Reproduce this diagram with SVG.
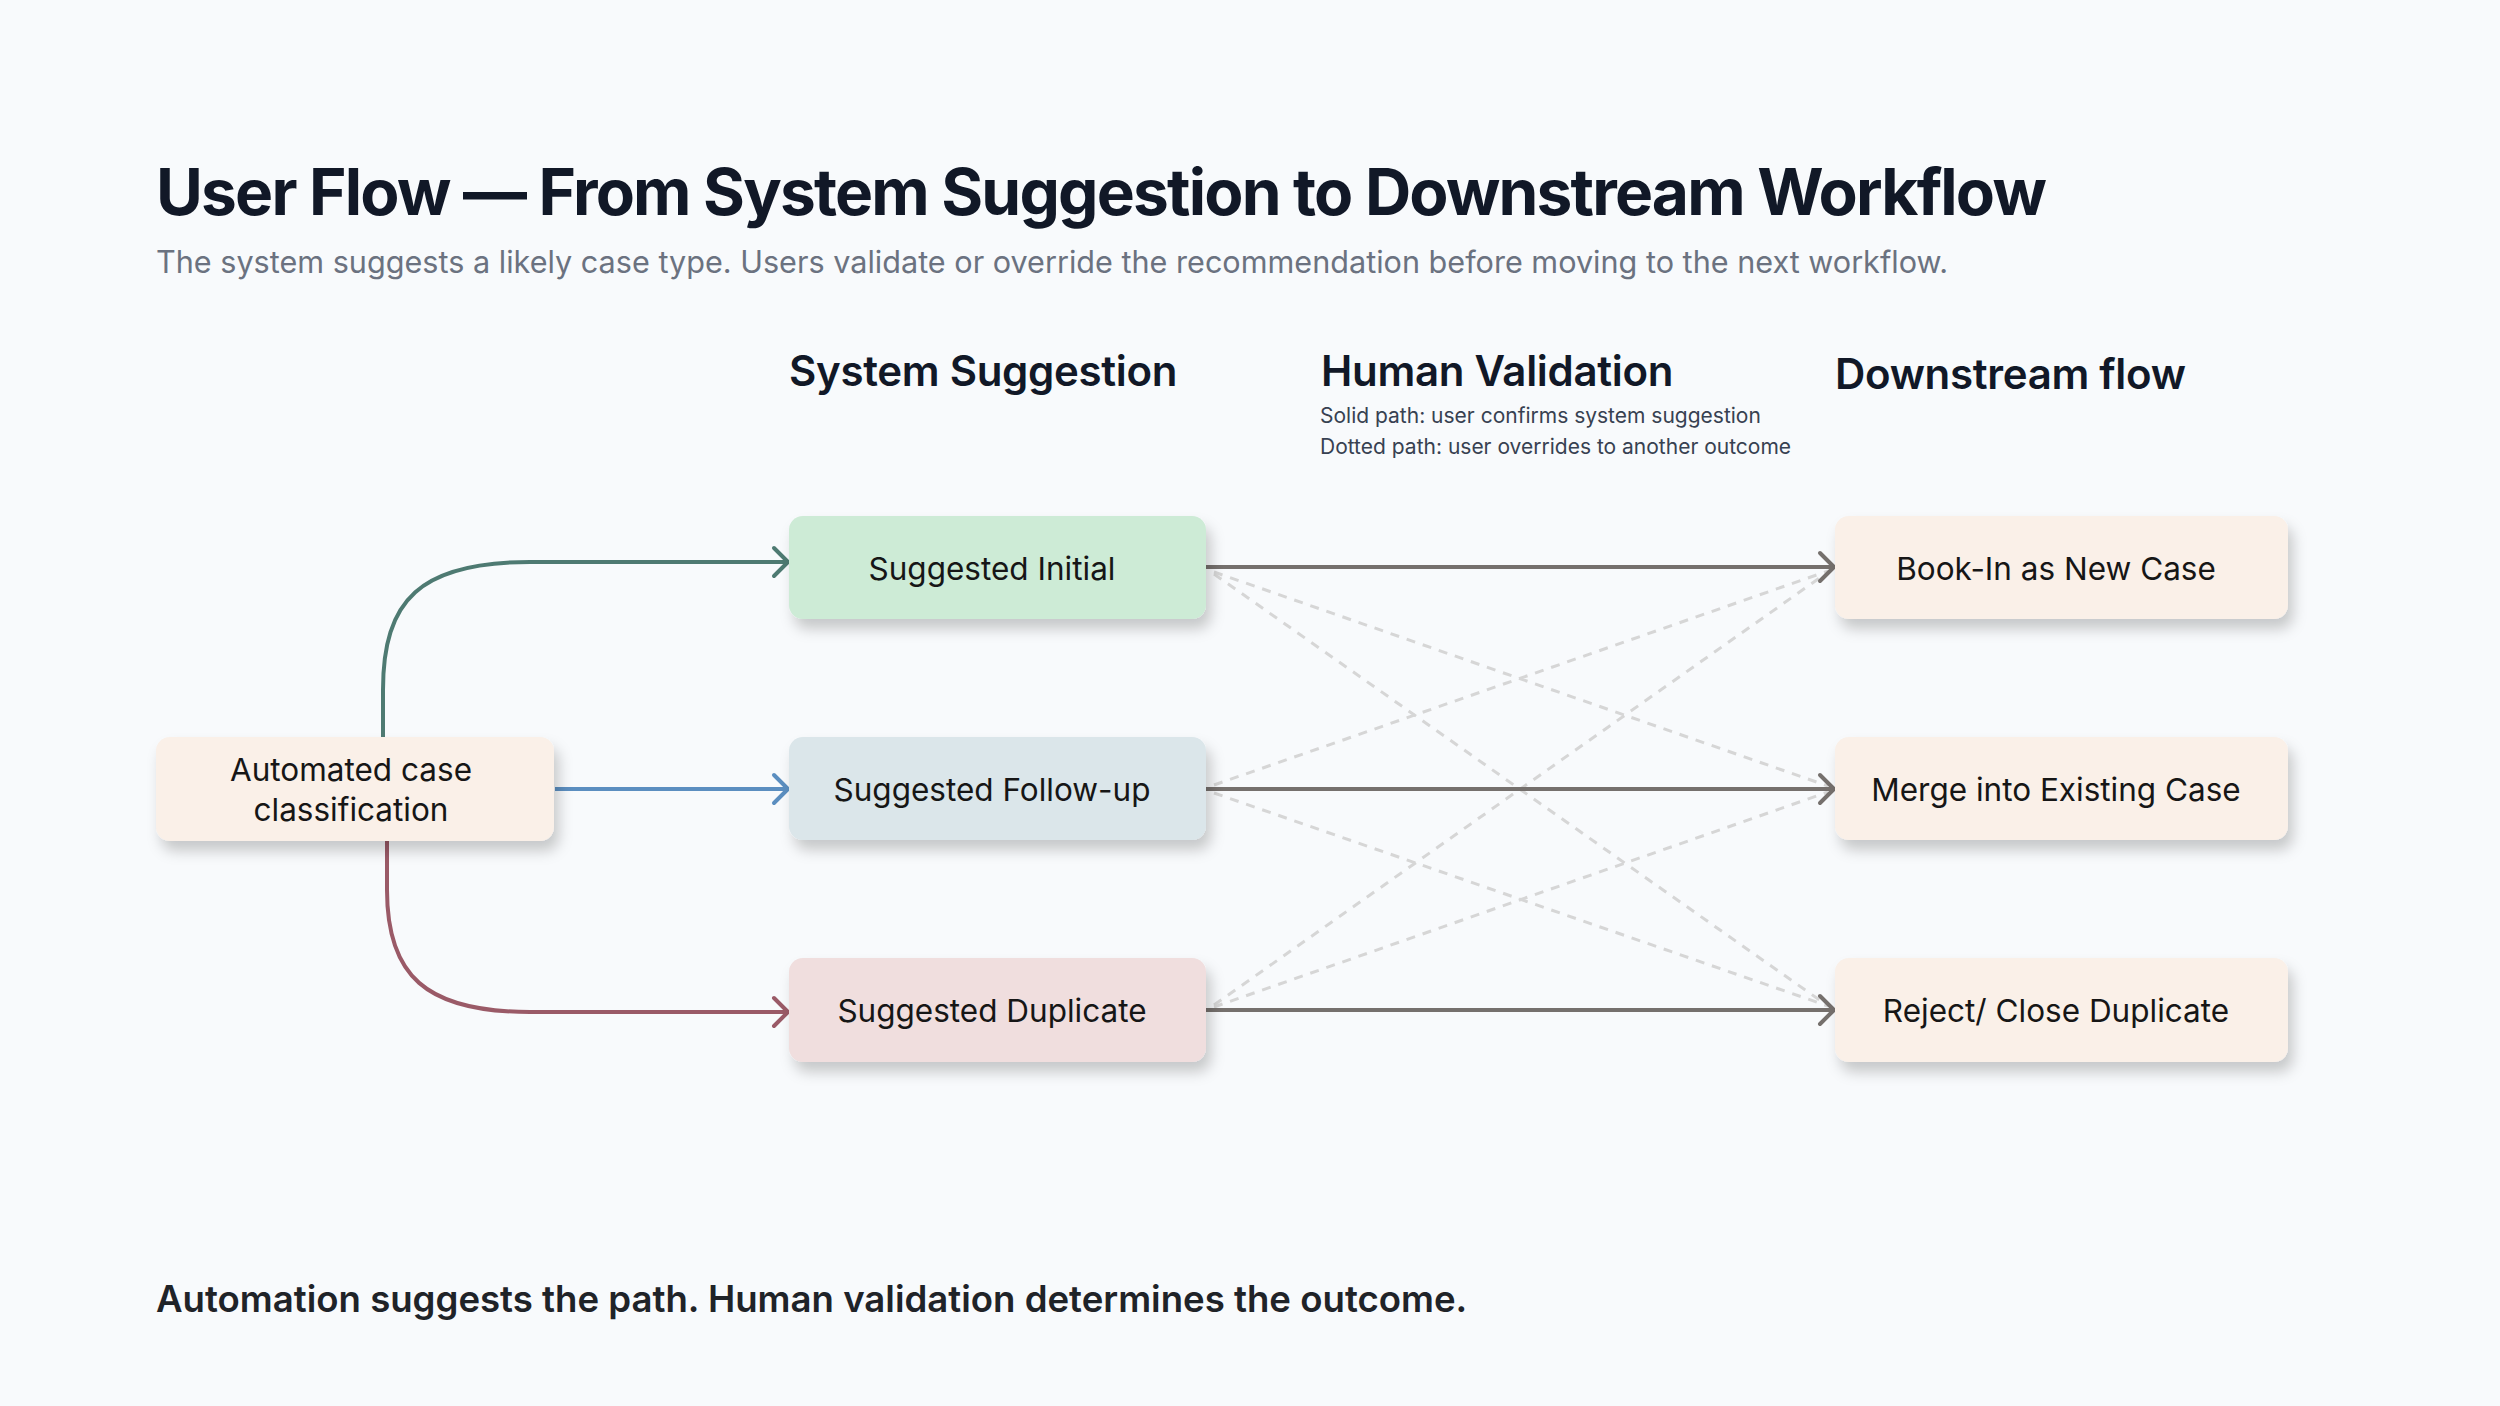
<svg xmlns="http://www.w3.org/2000/svg" width="2500" height="1406" viewBox="0 0 2500 1406">
  <defs>
    <style>
      .title { font-family: Inter, "Liberation Sans", sans-serif; font-weight: 700; fill: #111827; }
      .sub { font-family: Inter, "Liberation Sans", sans-serif; font-weight: 400; fill: #6b7280; }
      .head { font-family: Inter, "Liberation Sans", sans-serif; font-weight: 600; fill: #111827; font-size: 42px; letter-spacing: -0.3px; }
      .note { font-family: Inter, "Liberation Sans", sans-serif; font-weight: 400; fill: #374151; font-size: 21px; }
      .lbl { font-family: Inter, "Liberation Sans", sans-serif; font-weight: 400; fill: #161616; font-size: 31.5px; text-anchor: middle; }
      .foot { font-family: Inter, "Liberation Sans", sans-serif; font-weight: 600; fill: #1f2328; font-size: 36.6px; }
      .solid { fill: none; stroke: #75706d; stroke-width: 4; }
      .dash { fill: none; stroke: #d6d6d6; stroke-width: 3; stroke-dasharray: 9 8; }
    </style>
    <filter id="sh" x="-20%" y="-30%" width="150%" height="180%">
      <feDropShadow dx="5" dy="10" stdDeviation="7" flood-color="#000" flood-opacity="0.2"/>
    </filter>
    <marker id="aGray" markerUnits="userSpaceOnUse" markerWidth="22" markerHeight="34" viewBox="0 0 22 34" refX="17" refY="17" orient="auto">
      <path d="M3,3 L17,17 L3,31" fill="none" stroke="#75706d" stroke-width="4" stroke-linecap="round" stroke-linejoin="round"/>
    </marker>
    <marker id="aTeal" markerUnits="userSpaceOnUse" markerWidth="22" markerHeight="34" viewBox="0 0 22 34" refX="17" refY="17" orient="auto">
      <path d="M3,3 L17,17 L3,31" fill="none" stroke="#4e7a72" stroke-width="4" stroke-linecap="round" stroke-linejoin="round"/>
    </marker>
    <marker id="aBlue" markerUnits="userSpaceOnUse" markerWidth="22" markerHeight="34" viewBox="0 0 22 34" refX="17" refY="17" orient="auto">
      <path d="M3,3 L17,17 L3,31" fill="none" stroke="#5b8ec0" stroke-width="4" stroke-linecap="round" stroke-linejoin="round"/>
    </marker>
    <marker id="aRed" markerUnits="userSpaceOnUse" markerWidth="22" markerHeight="34" viewBox="0 0 22 34" refX="17" refY="17" orient="auto">
      <path d="M3,3 L17,17 L3,31" fill="none" stroke="#9a5a67" stroke-width="4" stroke-linecap="round" stroke-linejoin="round"/>
    </marker>
  </defs>

  <rect x="0" y="0" width="2500" height="1406" fill="#f8fafc"/>

  <g id="header">
    <text class="title" x="156" y="215" font-size="64" letter-spacing="-1.8">User Flow — From System Suggestion to Downstream Workflow</text>
    <text class="sub" x="156" y="273" font-size="30.6">The system suggests a likely case type. Users validate or override the recommendation before moving to the next workflow.</text>
    <text class="head" x="789" y="386">System Suggestion</text>
    <text class="head" x="1321" y="386">Human Validation</text>
    <text class="head" x="1835" y="389">Downstream flow</text>
    <text class="note" x="1320" y="423">Solid path: user confirms system suggestion</text>
    <text class="note" x="1320" y="454">Dotted path: user overrides to another outcome</text>
  </g>

  <g id="connectors">
    <line class="dash" x1="1214" y1="572" x2="1828" y2="786"/>
    <line class="dash" x1="1214" y1="574" x2="1828" y2="1006"/>
    <line class="dash" x1="1214" y1="785" x2="1828" y2="571"/>
    <line class="dash" x1="1214" y1="793" x2="1828" y2="1006"/>
    <line class="dash" x1="1214" y1="1005" x2="1828" y2="572"/>
    <line class="dash" x1="1214" y1="1007" x2="1828" y2="792"/>
    <path d="M383,737 L383,690 C383,600 420,562 530,562 L788,562" fill="none" stroke="#4e7a72" stroke-width="4" marker-end="url(#aTeal)"/>
    <path d="M555,789 L788,789" fill="none" stroke="#5b8ec0" stroke-width="4" marker-end="url(#aBlue)"/>
    <path d="M387,841 L387,890 C387,975 425,1012 530,1012 L788,1012" fill="none" stroke="#9a5a67" stroke-width="4" marker-end="url(#aRed)"/>
    <line class="solid" x1="1206" y1="567" x2="1834" y2="567" marker-end="url(#aGray)"/>
    <line class="solid" x1="1206" y1="789" x2="1834" y2="789" marker-end="url(#aGray)"/>
    <line class="solid" x1="1206" y1="1010" x2="1834" y2="1010" marker-end="url(#aGray)"/>
  </g>

  <g id="node-automated">
    <rect x="156" y="737" width="398" height="104" rx="14" fill="#faf0e8" filter="url(#sh)"/>
    <text class="lbl" x="351" y="781">Automated case</text>
    <text class="lbl" x="351" y="821">classification</text>
  </g>

  <g id="node-initial">
    <rect x="789" y="516" width="417" height="103" rx="14" fill="#cdebd6" filter="url(#sh)"/>
    <text class="lbl" x="992" y="580">Suggested Initial</text>
  </g>
  <g id="node-followup">
    <rect x="789" y="737" width="417" height="103" rx="14" fill="#dbe6ea" filter="url(#sh)"/>
    <text class="lbl" x="992" y="801">Suggested Follow-up</text>
  </g>
  <g id="node-duplicate">
    <rect x="789" y="958" width="417" height="104" rx="14" fill="#f0dede" filter="url(#sh)"/>
    <text class="lbl" x="992" y="1022">Suggested Duplicate</text>
  </g>

  <g id="node-bookin">
    <rect x="1835" y="516" width="453" height="103" rx="14" fill="#faf0e8" filter="url(#sh)"/>
    <text class="lbl" x="2056" y="580">Book-In as New Case</text>
  </g>
  <g id="node-merge">
    <rect x="1835" y="737" width="453" height="103" rx="14" fill="#faf0e8" filter="url(#sh)"/>
    <text class="lbl" x="2056" y="801">Merge into Existing Case</text>
  </g>
  <g id="node-reject">
    <rect x="1835" y="958" width="453" height="104" rx="14" fill="#faf0e8" filter="url(#sh)"/>
    <text class="lbl" x="2056" y="1022">Reject/ Close Duplicate</text>
  </g>

  <g id="footer">
    <text class="foot" x="156" y="1312">Automation suggests the path. Human validation determines the outcome.</text>
  </g>
</svg>
